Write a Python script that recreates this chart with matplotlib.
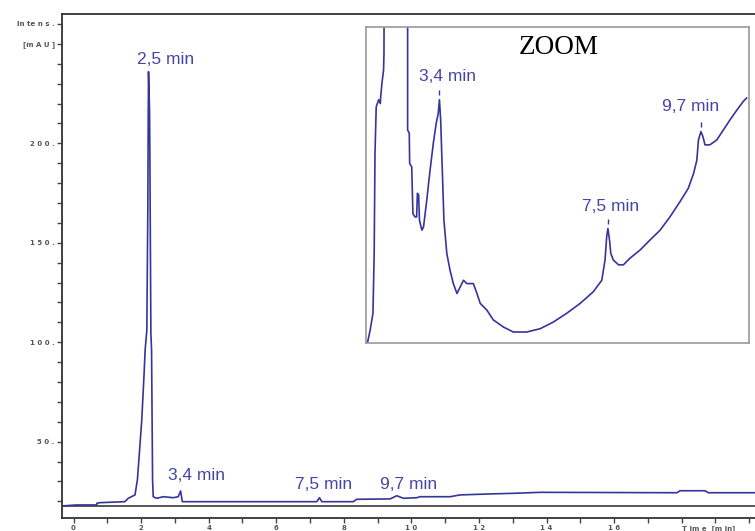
import matplotlib
matplotlib.use("Agg")
import matplotlib.pyplot as plt
from matplotlib.ticker import MultipleLocator

# main chromatogram (time [min], intensity [mAU])
time_main = [-0.35, 0.09, 0.69, 0.69, 0.78, 1.52, 1.62, 1.82, 1.89, 1.95, 2.02, 2.09, 2.12, 2.17,
             2.20, 2.21, 2.22, 2.25, 2.26, 2.29, 2.31, 2.34, 2.36, 2.46, 2.66, 2.95, 3.10, 3.17,
             3.22, 7.20, 7.28, 7.35, 8.28, 8.38, 9.37, 9.57, 9.76, 10.16, 10.26, 11.15, 11.44,
             12.33, 13.01, 13.81, 17.86, 17.95, 18.69, 18.79, 20.17]
intens_main = [17.65, 18.15, 18.15, 19.0, 19.3, 19.8, 21.5, 23.2, 30.7, 44.3, 60.9, 84.5, 96.1, 106.1,
               168.1, 208.3, 236.0, 216.7, 195.1, 104.6, 96.1, 30.7, 22.3, 21.5, 22.3, 21.8, 22.3, 25.2,
               19.8, 19.8, 21.8, 19.8, 19.8, 21.0, 21.2, 22.8, 21.5, 21.8, 22.3, 22.3, 23.2,
               23.7, 24.0, 24.5, 24.3, 25.3, 25.3, 24.3, 24.3]
baseline_level = 17.65

# zoomed trace (time [min], arbitrary zoomed intensity)
time_zoom = [1.41, 1.47, 1.54, 1.57, 1.59, 1.62, 1.68, 1.72, 1.73, 1.76, 1.80, 1.81, 1.84,
             2.39, 2.39, 2.43, 2.44, 2.49, 2.52, 2.57, 2.61, 2.63, 2.66, 2.68, 2.74, 2.78,
             2.86, 2.94, 3.02, 3.09, 3.14, 3.17, 3.20, 3.24, 3.28, 3.35, 3.43, 3.51, 3.60,
             3.68, 3.76, 3.84, 4.00, 4.09, 4.17, 4.33, 4.49, 4.74, 4.98, 5.31, 5.64, 5.96,
             6.29, 6.62, 6.94, 7.15, 7.23, 7.27, 7.30, 7.34, 7.37, 7.43, 7.56, 7.68, 7.84,
             8.09, 8.33, 8.58, 8.82, 9.07, 9.27, 9.40, 9.48, 9.52, 9.58, 9.63, 9.68, 9.80,
             9.97, 10.13, 10.29, 10.46, 10.62, 10.70]
intens_zoom = [17.32, 17.53, 17.84, 18.93, 20.75, 21.59, 21.72, 21.65, 21.78, 22.02, 22.26, 22.56, 30.0,
               30.0, 21.17, 21.11, 20.56, 20.50, 19.65, 19.59, 19.59, 20.02, 19.99, 19.53, 19.35, 19.41,
               19.90, 20.44, 20.93, 21.29, 21.47, 21.72, 21.35, 20.44, 19.53, 18.93, 18.62, 18.38, 18.20,
               18.32, 18.44, 18.38, 18.38, 18.20, 18.02, 17.90, 17.72, 17.59, 17.50, 17.50, 17.56, 17.68,
               17.84, 18.02, 18.23, 18.44, 18.81, 19.23, 19.38, 19.17, 18.93, 18.81, 18.72, 18.72, 18.84,
               18.99, 19.17, 19.35, 19.59, 19.87, 20.11, 20.38, 20.62, 20.99, 21.14, 21.05, 20.90, 20.90,
               20.99, 21.17, 21.35, 21.53, 21.69, 21.75]

# peak labels
main_labels = ["2,5 min", "3,4 min", "7,5 min", "9,7 min"]
main_label_pos = [(1.88, 241.9), (2.80, 33.2), (6.56, 28.2), (9.07, 28.2)]
zoom_labels = ["3,4 min", "7,5 min", "9,7 min"]
zoom_label_pos = [(2.68, 22.14), (6.66, 19.78), (8.62, 21.59)]
zoom_peak_times = [3.17, 7.30, 9.58]
zoom_peak_heights = [21.72, 19.38, 21.14]

x_ticks = [0, 2, 4, 6, 8, 10, 12, 14, 16, 18]
x_tick_labels = ["0", "2", "4", "6", "8", "1 0", "1 2", "1 4", "1 6", "T im e  [m in]"]
y_ticks = [50, 100, 150, 200, 250, 260]
y_tick_labels = ["5 0 .", "1 0 0 .", "1 5 0 .", "2 0 0 .", "[m A U ]", "In te n s ."]

LINE_COLOR = "#35359c"
TEXT_COLOR = "#4545a6"

fig = plt.figure(figsize=(7.55, 5.31), dpi=100)
ax = fig.add_axes([0.0817, 0.0245, 0.9183, 0.9491])

ax.axhline(baseline_level, color="#555555", lw=1.4, zorder=1)
ax.plot(time_main, intens_main, color=LINE_COLOR, lw=1.2, zorder=2)

ax.set_xlim(-0.35, 20.17)
ax.set_ylim(11.6, 265.0)

for spine in ["left", "bottom", "top"]:
    ax.spines[spine].set_color("#333333")
    ax.spines[spine].set_linewidth(1.3)
ax.spines["right"].set_visible(False)

ax.set_xticks(x_ticks)
ax.set_xticklabels(x_tick_labels)
ax.xaxis.set_minor_locator(MultipleLocator(1))
ax.set_yticks(y_ticks)
ax.set_yticklabels(y_tick_labels)
ax.yaxis.set_minor_locator(MultipleLocator(10))
ax.tick_params(which="both", direction="out", length=3.5, width=1, color="#444444")
ax.tick_params(axis="both", labelsize=5, labelcolor="#555555", pad=1.5)
for lbl in ax.get_xticklabels() + ax.get_yticklabels():
    lbl.set_fontweight("bold")
ax.get_xticklabels()[-1].set_horizontalalignment("left")

for text, (tx, ty) in zip(main_labels, main_label_pos):
    ax.text(tx, ty, text, color=TEXT_COLOR, fontsize=12.5, family="Liberation Sans",
            ha="left", va="center")

# zoom inset
axz = fig.add_axes([0.4848, 0.3540, 0.5073, 0.5951])
axz.plot(time_zoom, intens_zoom, color=LINE_COLOR, lw=1.2)
axz.set_xlim(1.37, 10.76)
axz.set_ylim(17.30, 23.04)
axz.set_xticks([])
axz.set_yticks([])
for spine in axz.spines.values():
    spine.set_color("#999999")
    spine.set_linewidth(1.2)

axz.text(0.502, 0.935, "ZOOM", transform=axz.transAxes, ha="center", va="center",
         fontsize=19.5, family="Liberation Serif", color="black")

for text, (tx, ty) in zip(zoom_labels, zoom_label_pos):
    axz.text(tx, ty, text, color=TEXT_COLOR, fontsize=12.5, family="Liberation Sans",
             ha="left", va="center")
for pt, ph in zip(zoom_peak_times, zoom_peak_heights):
    axz.vlines(pt, ph + 0.08, ph + 0.17, color=LINE_COLOR, lw=1)

fig.savefig("out.png", dpi=100)
